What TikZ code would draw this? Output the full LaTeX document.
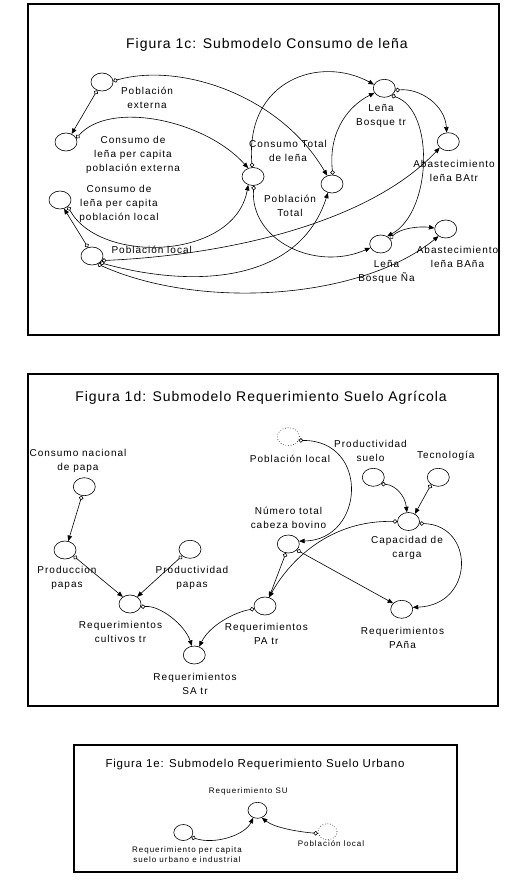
\documentclass[tikz,border=0pt]{standalone}
\usepackage{fontspec}
\setmainfont{Liberation Sans}
\newfontfamily\ttlfont[LetterSpace=7]{Liberation Sans}
\newfontfamily\lblfont[LetterSpace=10]{Liberation Sans}
\newfontfamily\lblsfont[LetterSpace=12]{Liberation Sans}
\usetikzlibrary{shapes.geometric,arrows.meta}
\tikzset{
  var/.style={ellipse, draw, line width=0.6pt, minimum width=22pt, minimum height=18pt, inner sep=0pt},
  svar/.style={var, minimum width=19pt, minimum height=16pt},
  ghost/.style={var, dotted},
  sghost/.style={svar, dotted},
  lab/.style={font=\lblfont\fontsize{10}{14}\selectfont, align=center, inner sep=0pt},
  labs/.style={font=\lblsfont\fontsize{8}{9.3}\selectfont, align=center, inner sep=0pt},
  ttl/.style={font=\ttlfont\fontsize{14}{16}\selectfont, inner sep=0pt},
  sttl/.style={font=\ttlfont\fontsize{11.5}{13}\selectfont, inner sep=0pt},
  panel/.style={draw, line width=1.3pt},
  link/.style={line width=0.6pt, {Circle[open,length=4.5pt,width=4.5pt]}-{Triangle[length=5.5pt,width=4.5pt]}}
}
\begin{document}
\begin{tikzpicture}[x=1pt,y=-1pt]
\useasboundingbox (0,0) rectangle (529,883);
\fill[white] (0,0) rectangle (529,883);

% ---------------- Panel 1c ----------------
\draw[panel] (28,4) rectangle (499,335);
\node[ttl] (t1) at (267,45) {Figura 1c: Submodelo Consumo de leña};

\node[var] (PE)   at (102,82)  {};
\node[var] (CPE)  at (66,142)  {};
\node[var] (CT)   at (253,176.5) {};
\node[var] (PT)   at (332,184) {};
\node[var] (LBtr) at (384.3,88.3) {};
\node[var] (ABtr) at (448.3,141.7) {};
\node[var] (CPL)  at (60,200)  {};
\node[var] (PL)   at (92,256)  {};
\node[var] (LBNa) at (380.7,244) {};
\node[var] (ABNa) at (445.7,229) {};

\node[lab] (lPE)   at (147,98)    {Población\\externa};
\node[lab] (lCPE)  at (133,154.5) {Consumo de\\leña per capita\\población externa};
\node[lab] (lCT)   at (288,150.5) {Consumo Total\\de leña};
\node[lab] (lPT)   at (290,205.7) {Población\\Total};
\node[lab] (lLBtr) at (381,116)   {Leña\\Bosque tr};
\node[lab] (lABtr) at (454,170.8) {Abastecimiento\\leña BAtr};
\node[lab] (lCPL)  at (119,204.4) {Consumo de\\leña per capita\\población local};
\node[lab] (lPL)   at (151.7,250) {Población local};
\node[lab] (lLBNa) at (386.5,271.7) {Leña\\Bosque Ña};
\node[lab] (lABNa) at (457.5,257) {Abastecimiento\\leña BAña};

\draw[link] (PE.240) -- (CPE.55);
\draw[link] (PE.5) .. controls (180,62) and (280,95) .. (PT.120);
\draw[link] (CPE.20) .. controls (110,100) and (205,120) .. (CT.120);
\draw[link] (CT.95) .. controls (245,80) and (320,55) .. (LBtr.160);
\draw[link] (LBtr.350) .. controls (420,88) and (445,105) .. (ABtr.100);
\draw[link] (LBtr.315) .. controls (435,110) and (432,212) .. (LBNa.50);
\draw[link] (PT.85) .. controls (328,130) and (350,105) .. (LBtr.205);
\draw[link] (CT.275) .. controls (250,240) and (315,272) .. (LBNa.200);
\draw[link] (CPL.320) .. controls (100,265) and (235,260) .. (CT.240);
\draw[link] (PL.115) -- (CPL.295);
\draw[link] (PL.335) .. controls (230,255) and (370,222) .. (ABtr.215);
\draw[link] (PL.320) .. controls (200,290) and (300,280) .. (PT.245);
\draw[link] (PL.305) .. controls (200,310) and (360,300) .. (ABNa.225);
\draw[link] (LBNa.30) .. controls (400,228) and (420,226) .. (ABNa.175);

% ---------------- Panel 1d ----------------
\draw[panel] (28,374) rectangle (498,706);
\node[ttl] (t2) at (261,398) {Figura 1d: Submodelo Requerimiento Suelo Agrícola};

\node[var] (CNP)  at (84.3,486.7) {};
\node[var] (PP)   at (65,550)    {};
\node[var] (PrP)  at (190,549.3) {};
\node[var] (RC)   at (130,604)   {};
\node[var] (RSA)  at (194.3,655) {};
\node[var] (RPA)  at (265,606)   {};
\node[var] (NTB)  at (288.3,544) {};
\node[ghost] (PL2) at (288.3,436.7) {};
\node[var] (PS)   at (373.3,477.3) {};
\node[var] (TEC)  at (438.3,477.3) {};
\node[var] (CC)   at (408.5,521.5) {};
\node[var] (RPN)  at (401.7,609.3) {};

\node[lab] (lCNP) at (78,461)     {Consumo nacional\\de papa};
\node[lab] (lPP)  at (67,578.3)   {Produccion\\papas};
\node[lab] (lPrP) at (192,578.3)  {Productividad\\papas};
\node[lab] (lRC)  at (120.5,631.7) {Requerimientos\\cultivos tr};
\node[lab] (lRSA) at (195,683.7)  {Requerimientos\\SA tr};
\node[lab] (lRPA) at (266.3,634)  {Requerimientos\\PA tr};
\node[lab] (lRPN) at (402.5,637.8) {Requerimientos\\PAña};
\node[lab] (lNTB) at (288.5,517.8) {Número total\\cabeza bovino};
\node[lab] (lPL2) at (290,459.3)  {Población local};
\node[lab] (lPS)  at (370.5,451.2) {Productividad\\suelo};
\node[lab] (lTEC) at (445.8,456)  {Tecnología};
\node[lab] (lCC)  at (407,547.8)  {Capacidad de\\carga};

\draw[link] (CNP.255) -- (PP.70);
\draw[link] (PP.325) -- (RC.135);
\draw[link] (PrP.220) -- (RC.45);
\draw[link] (RC.345) .. controls (160,605) and (185,625) .. (RSA.105);
\draw[link] (RPA.195) .. controls (235,612) and (210,625) .. (RSA.60);
\draw[link] (NTB.255) -- (RPA.65);
\draw[link] (CC.180) .. controls (330,520) and (290,560) .. (RPA.65);
\draw[link] (NTB.325) -- (RPN.145);
\draw[link] (CC.350) .. controls (475,525) and (475,605) .. (RPN.10);
\draw[link] (PL2.340) .. controls (370,440) and (365,540) .. (NTB.15);
\draw[link] (PS.320) .. controls (395,485) and (405,495) .. (CC.100);
\draw[link] (TEC.225) -- (CC.50);

% ---------------- Panel 1e ----------------
\draw[panel] (74,745) rectangle (457,872);
\node[sttl] (t3) at (255,765) {Figura 1e: Submodelo Requerimiento Suelo Urbano};

\node[svar] (RSU) at (257.5,810.3) {};
\node[svar] (RPC) at (183.3,832.5) {};
\node[sghost] (PL3) at (327.5,831.7) {};

\node[labs] (lRSU) at (248.3,791.7) {Requerimiento SU};
\node[labs] (lRPC) at (187,854.7)   {Requerimiento per capita\\suelo urbano e industrial};
\node[labs] (lPL3) at (331,843.3)   {Población local};

\draw[link] (RPC.330) .. controls (215,845) and (245,835) .. (RSU.240);
\draw[link] (PL3.190) .. controls (300,832) and (275,828) .. (RSU.300);
\end{tikzpicture}
\end{document}
